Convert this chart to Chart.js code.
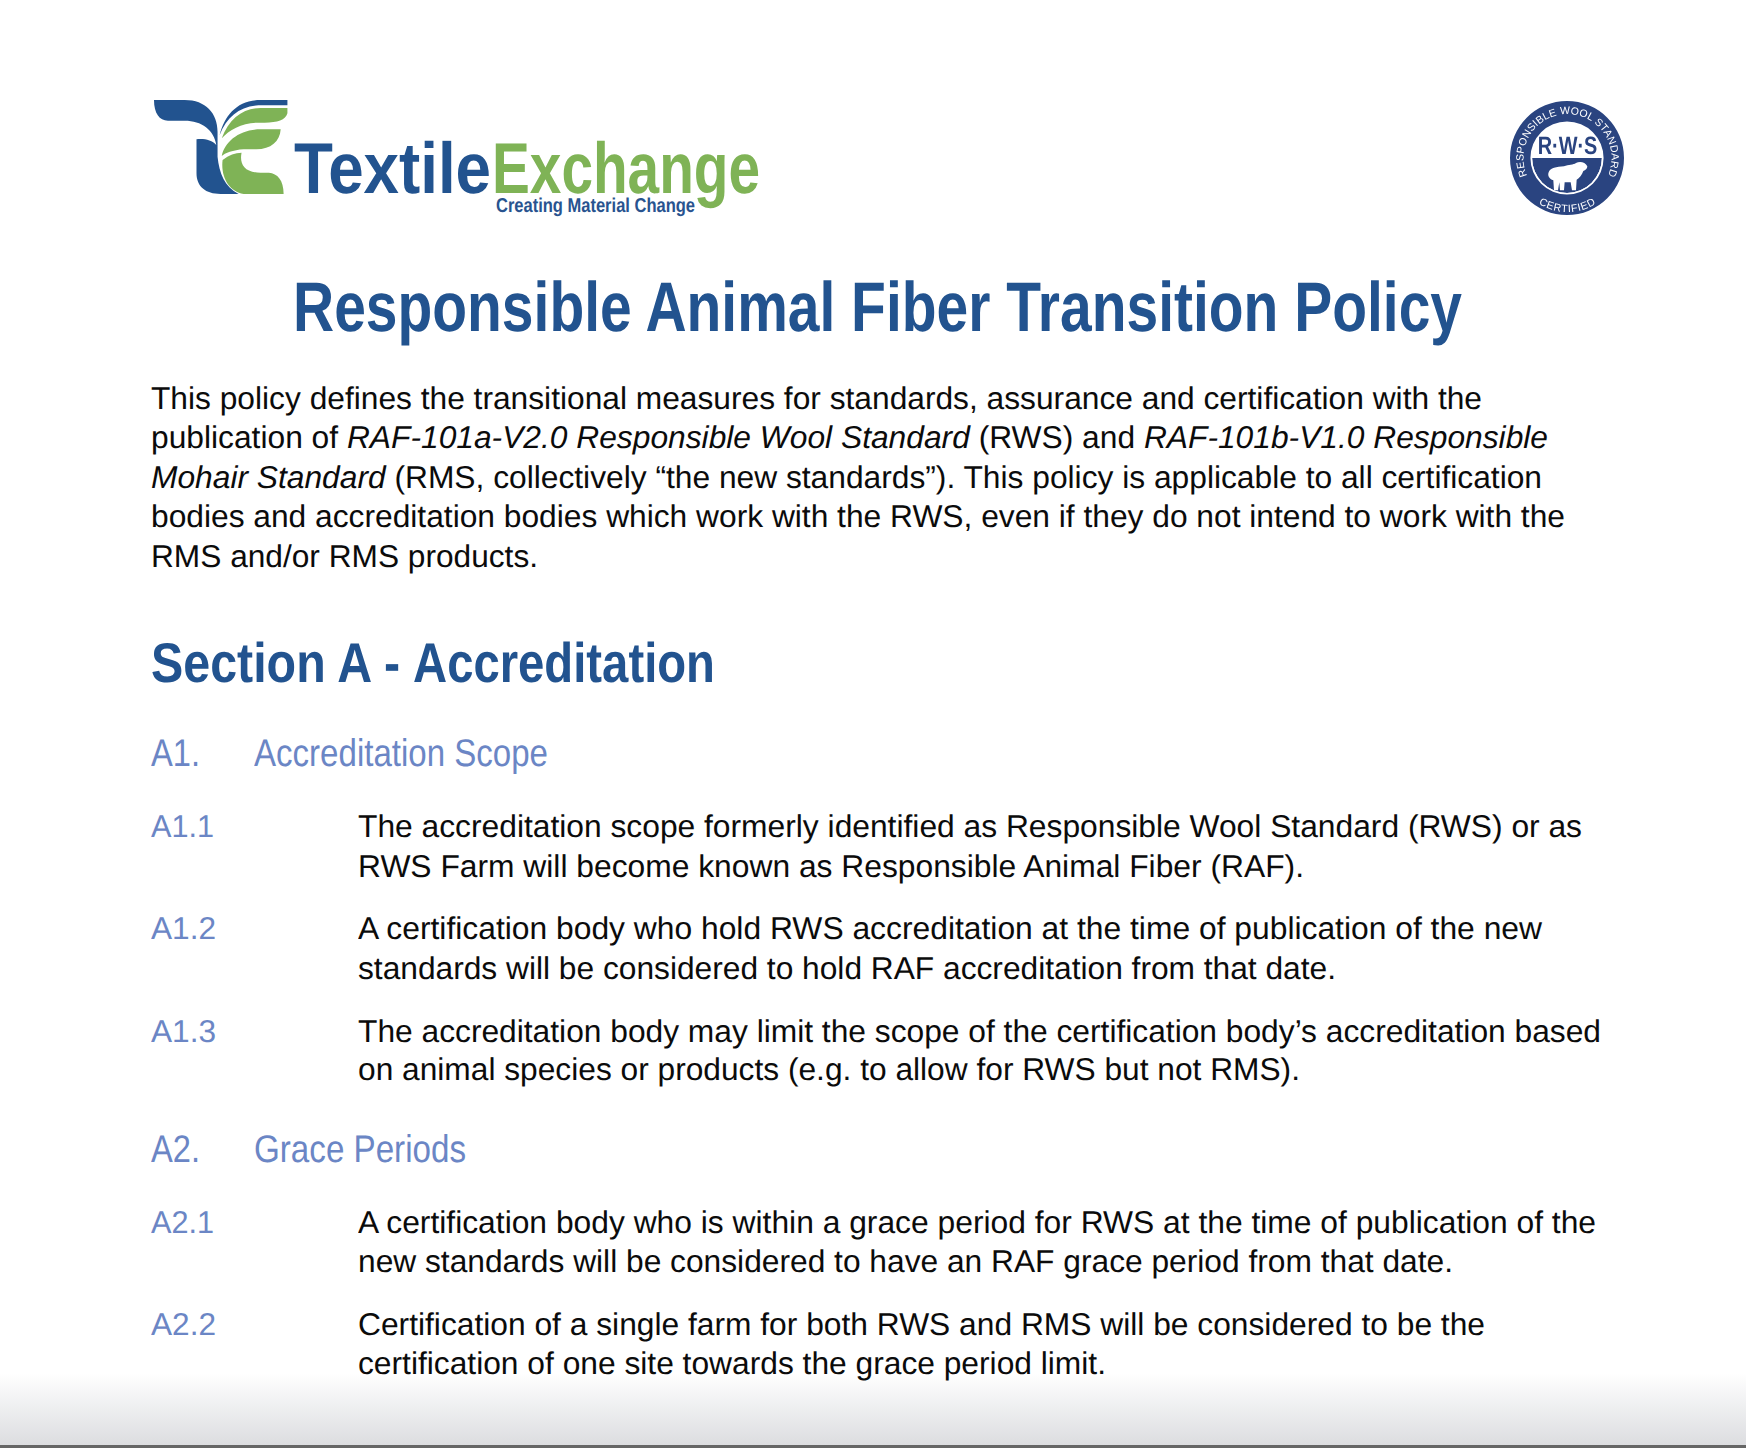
<!DOCTYPE html>
<html>
<head>
<meta charset="utf-8">
<title>Responsible Animal Fiber Transition Policy</title>
<script src="https://cdn.jsdelivr.net/npm/chart.js@4/dist/chart.umd.min.js"></script>
<style>
html, body { margin: 0; padding: 0; background: #fff; }
#page { position: relative; width: 1746px; height: 1448px; overflow: hidden; background: #fff; text-rendering: geometricPrecision; }
.line { position: absolute; white-space: pre; transform-origin: 0 0; line-height: 1; }
.body { font: 31.5px "Liberation Sans", Arial, sans-serif; color: #0b0b0b; }
.num { font: 31.5px "Liberation Sans", Arial, sans-serif; color: #6b86c5; }
.title { font: bold 70px "Liberation Sans", Arial, sans-serif; color: #22538f; }
.section { font: bold 56px "Liberation Sans", Arial, sans-serif; color: #22538f; }
.sub { font: 38.5px "Liberation Sans", Arial, sans-serif; color: #6b86c5; }
#logo, #badgeText { position: absolute; }
#badge { position: absolute; left: 1510px; top: 101px; width: 114px; height: 114px; }
#shade { position: absolute; left: 0; top: 1373px; width: 1746px; height: 72px; background: linear-gradient(#ffffff, #dcdde0); }
#bar { position: absolute; left: 0; top: 1445px; width: 1746px; height: 3px; background: #666; }
</style>
</head>
<body>
<div id="page">
  <div id="shade"></div>
  <div id="bar"></div>

  <svg id="logo" style="left:0;top:0" width="800" height="240" viewBox="0 0 800 240">
    <g transform="translate(130 80) scale(0.4209 0.3333)">
      <path fill="#22538f" d="M57 60 L130 60 C180 60 208 100 208 155 L208 230 C212 280 225 320 258 342 L215 342 C180 342 158 320 158 280 L158 178 C175 175 195 180 205 195 C200 150 170 122 130 122 L90 122 C70 122 57 100 57 60Z"/>
      <path fill="#22538f" d="M213 165 C225 105 255 60 310 60 L374 60 L374 76 L305 76 C260 80 230 110 213 165Z"/>
      <path fill="#7fb356" d="M218 175 C235 115 270 84 310 84 L374 84 L374 100 C370 120 350 128 320 128 L300 128 C265 130 235 150 218 175Z"/>
      <path fill="#7fb356" d="M218 228 C225 185 260 148 310 148 L358 148 C356 185 335 208 300 208 L270 208 C245 210 225 220 218 228Z"/>
      <path fill="#7fb356" d="M220 240 C235 225 250 218 265 218 C260 250 270 278 310 278 L330 278 C350 280 365 300 365 342 L270 342 C235 335 215 290 220 240Z"/>
    </g>
    <text x="294" y="193" textLength="197" lengthAdjust="spacingAndGlyphs" font-family="Liberation Sans" font-weight="bold" font-size="72" fill="#22538f">Textile</text>
    <text x="492" y="193" textLength="268" lengthAdjust="spacingAndGlyphs" font-family="Liberation Sans" font-weight="bold" font-size="72" fill="#7fb356">Exchange</text>
    <text x="496" y="212" textLength="199" lengthAdjust="spacingAndGlyphs" font-family="Liberation Sans" font-weight="bold" font-size="20" fill="#28538f">Creating Material Change</text>
  </svg>

  <canvas id="badge" width="114" height="114"></canvas>

  <svg id="badgeText" style="left:1490px;top:85px" width="150" height="150" viewBox="0 0 150 150">
    <defs>
      <path id="arcTop" d="M37.6 91.6 A44 44 0 1 1 117.4 91.6"/>
      <path id="arcBottom" d="M46.5 117.2 A54 54 0 0 0 108.5 117.2"/>
    </defs>
    <text font-family="Liberation Sans" font-size="10.5" fill="#fff" letter-spacing="0.2" text-anchor="middle">
      <textPath href="#arcTop" startOffset="50%">RESPONSIBLE WOOL STANDARD</textPath>
    </text>
    <text font-family="Liberation Sans" font-size="10.5" fill="#fff" letter-spacing="0.6" text-anchor="middle">
      <textPath href="#arcBottom" startOffset="50%">CERTIFIED</textPath>
    </text>
    <text x="47.7" y="69.3" textLength="59.6" lengthAdjust="spacingAndGlyphs" font-family="Liberation Sans" font-weight="bold" font-size="25" fill="#2a4480">R·W·S</text>
    <g transform="scale(0.3333)">
      <path fill="#fff" d="M176 262 C180 248 200 246 222 244 C236 238 250 240 258 234 C268 228 286 230 292 244 C292 252 286 256 280 258 C276 270 268 280 260 284 L258 316 L246 316 L242 292 L224 292 L222 316 L210 316 L208 292 L204 316 L192 316 L190 286 C178 282 172 272 176 262Z"/>
    </g>
  </svg>
</div>

<script>
var badgeRing = [100];
var badgeGap = [100];
var badgeHalf = [50, 50];

var titleLine = ['Responsible Animal Fiber Transition Policy', 293, 331, 1462];
var sectionLines = [
  ['Section A -', 151, 682, 400],
  ['Accreditation', 413, 682, 715]
];

var introLines = [
  ['This policy defines the transitional measures for standards, assurance and certification with the', 151, 409, 1482],
  ['publication of <i>RAF-101a-V2.0 Responsible Wool Standard</i> (RWS) and <i>RAF-101b-V1.0 Responsible</i>', 151, 447.5, 1548],
  ['<i>Mohair Standard</i> (RMS, collectively “the new standards”). This policy is applicable to all certification', 151, 488, 1542],
  ['bodies and accreditation bodies which work with the RWS, even if they do not intend to work with the', 151, 526.5, 1565],
  ['RMS and/or RMS products.', 151, 567, 538]
];

var clauseLines = [
  ['The accreditation scope formerly identified as Responsible Wool Standard (RWS) or as', 358, 836.5, 1582],
  ['RWS Farm will become known as Responsible Animal Fiber (RAF).', 358, 876.5, 1304],
  ['A certification body who hold RWS accreditation at the time of publication of the new', 358, 939, 1542],
  ['standards will be considered to hold RAF accreditation from that date.', 358, 978.5, 1336],
  ['The accreditation body may limit the scope of the certification body’s accreditation based', 358, 1042, 1601],
  ['on animal species or products (e.g. to allow for RWS but not RMS).', 358, 1079.5, 1300],
  ['A certification body who is within a grace period for RWS at the time of publication of the', 358, 1233, 1596],
  ['new standards will be considered to have an RAF grace period from that date.', 358, 1272, 1453],
  ['Certification of a single farm for both RWS and RMS will be considered to be the', 358, 1335, 1485],
  ['certification of one site towards the grace period limit.', 358, 1374, 1106]
];

var clauseNumbers = [
  ['A1.1', 151, 836.5, 214],
  ['A1.2', 151, 939, 216],
  ['A1.3', 151, 1042, 216],
  ['A2.1', 151, 1233, 214],
  ['A2.2', 151, 1335, 216]
];

var subHeadings = [
  ['A1.', 151, 766, 200],
  ['Accreditation Scope', 254, 766, 548],
  ['A2.', 151, 1162, 200],
  ['Grace Periods', 254, 1162, 466]
];

// puts a line on its baseline and squeezes it to the width in the picture
function addLines(lines, cls) {
  var page = document.getElementById('page');
  for (var i = 0; i < lines.length; i++) {
    var el = document.createElement('div');
    el.className = 'line ' + cls;
    el.innerHTML = lines[i][0];
    el.style.left = '0px';
    el.style.top = '0px';
    page.appendChild(el);
    var w = el.getBoundingClientRect().width;
    // zero height inline box sits on the baseline
    var probe = document.createElement('span');
    probe.style.display = 'inline-block';
    probe.style.height = '0px';
    el.appendChild(probe);
    var base = probe.getBoundingClientRect().bottom - el.getBoundingClientRect().top;
    el.removeChild(probe);
    el.style.left = lines[i][1] + 'px';
    el.style.top = (lines[i][2] - base) + 'px';
    el.style.transform = 'scaleX(' + ((lines[i][3] - lines[i][1]) / w) + ')';
  }
}

addLines([titleLine], 'title');
addLines(sectionLines, 'section');
addLines(introLines, 'body');
addLines(clauseLines, 'body');
addLines(clauseNumbers, 'num');
addLines(subHeadings, 'sub');

var navy = '#2a4480';
new Chart(document.getElementById('badge'), {
  type: 'doughnut',
  data: {
    datasets: [
      { data: badgeRing, backgroundColor: [navy], weight: 20.5, borderWidth: 0 },
      { data: badgeGap, backgroundColor: ['#ffffff'], weight: 1.7, borderWidth: 0 },
      { data: badgeHalf, backgroundColor: [navy, '#ffffff'], weight: 35, borderWidth: 0 }
    ]
  },
  options: {
    responsive: false,
    animation: false,
    rotation: 90,
    cutout: 0,
    layout: { padding: 0 },
    plugins: { legend: { display: false }, tooltip: { enabled: false } }
  }
});
</script>
</body>
</html>
